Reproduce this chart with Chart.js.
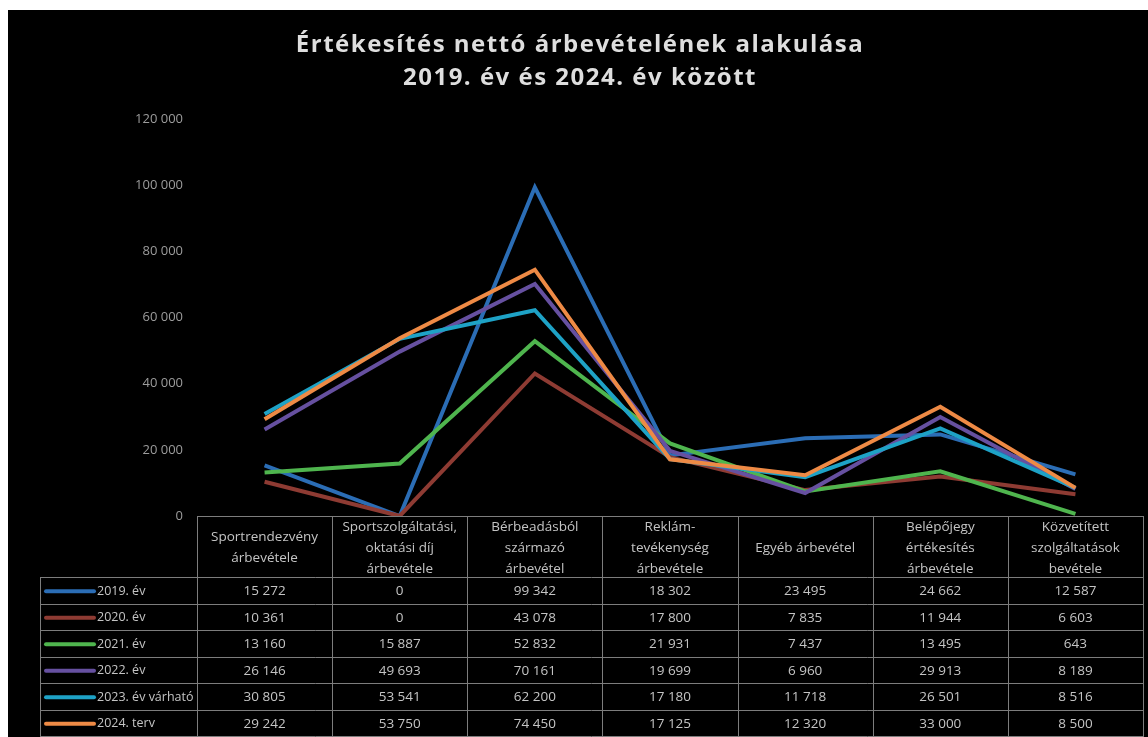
<!DOCTYPE html>
<html>
<head>
<meta charset="utf-8">
<script src="https://cdn.jsdelivr.net/npm/chart.js@4.4.1/dist/chart.umd.min.js"></script>
<style>
  html, body { margin: 0; padding: 0; background: #fff; }
  #wrap { position: absolute; left: 8px; top: 10px; width: 1140px; height: 727px; background: #000; }
  canvas { display: block; }
</style>
</head>
<body>
<div id="wrap"><canvas id="chart" width="1140" height="727"></canvas></div>
<script>
// categories (header cells, split into lines)
const categories = [
  ['Sportrendezvény', 'árbevétele'],
  ['Sportszolgáltatási,', 'oktatási díj', 'árbevétele'],
  ['Bérbeadásból', 'származó', 'árbevétel'],
  ['Reklám-', 'tevékenység', 'árbevétele'],
  ['Egyéb árbevétel'],
  ['Belépőjegy', 'értékesítés', 'árbevétele'],
  ['Közvetített', 'szolgáltatások', 'bevétele']
];

const seriesNames = ['2019. év', '2020. év', '2021. év', '2022. év', '2023. év várható', '2024. terv'];
const seriesColors = ['#2b6db5', '#8e3b33', '#4fb54e', '#6650a0', '#1ea2c6', '#ee8a45'];

const y2019 = [15272, 0, 99342, 18302, 23495, 24662, 12587];
const y2020 = [10361, 0, 43078, 17800, 7835, 11944, 6603];
const y2021 = [13160, 15887, 52832, 21931, 7437, 13495, 643];
const y2022 = [26146, 49693, 70161, 19699, 6960, 29913, 8189];
const y2023 = [30805, 53541, 62200, 17180, 11718, 26501, 8516];
const y2024 = [29242, 53750, 74450, 17125, 12320, 33000, 8500];
const seriesValues = [y2019, y2020, y2021, y2022, y2023, y2024];

const yMin = 0;
const yMax = 120000;
const yStep = 20000;

const titleLines = ['Értékesítés nettó árbevételének alakulása', '2019. év és 2024. év között'];

function fmt(v) {
  return String(v).replace(/\B(?=(\d{3})+(?!\d))/g, ' ');
}

// draws the data table under the plot, columns follow the x scale
const dataTable = {
  id: 'dataTable',
  afterDraw(chart) {
    const ctx = chart.ctx;
    const xs = chart.scales.x;
    const area = chart.chartArea;
    const colW = (area.right - area.left) / categories.length;
    const top = area.bottom;
    const headH = 62;
    const rowH = 26.5;
    const legendLeft = 32;
    const rowsTop = top + headH;
    const bottom = rowsTop + rowH * seriesNames.length;

    ctx.save();
    ctx.strokeStyle = '#7d7d7d';
    ctx.lineWidth = 1;
    ctx.beginPath();
    // header box
    ctx.moveTo(area.left, top + 0.5); ctx.lineTo(area.right, top + 0.5);
    for (let i = 0; i <= categories.length; i++) {
      const x = Math.round(area.left + colW * i) + 0.5;
      ctx.moveTo(x, top); ctx.lineTo(x, bottom);
    }
    for (let r = 0; r <= seriesNames.length; r++) {
      const y = Math.round(rowsTop + rowH * r) - 0.5;
      ctx.moveTo(legendLeft, y); ctx.lineTo(area.right, y);
    }
    ctx.moveTo(legendLeft + 0.5, rowsTop); ctx.lineTo(legendLeft + 0.5, bottom);
    ctx.stroke();

    ctx.fillStyle = '#c4c4c4';
    ctx.font = '13.5px "Open Sans", sans-serif';
    ctx.textAlign = 'center';
    ctx.textBaseline = 'middle';
    categories.forEach((lines, i) => {
      const cx = xs.getPixelForValue(i);
      const lh = 21;
      const start = top + headH / 2 - (lines.length - 1) * lh / 2;
      lines.forEach((t, k) => ctx.fillText(t, cx, start + k * lh + 1));
    });

    seriesNames.forEach((name, r) => {
      const cy = rowsTop + rowH * r + rowH / 2;
      ctx.strokeStyle = seriesColors[r];
      ctx.lineWidth = 4;
      ctx.lineCap = 'round';
      ctx.beginPath();
      ctx.moveTo(38, cy); ctx.lineTo(86, cy);
      ctx.stroke();
      ctx.textAlign = 'left';
      ctx.fillStyle = '#c4c4c4';
      ctx.font = '12.5px "Open Sans", sans-serif';
      ctx.fillText(name, 89, cy);
      ctx.textAlign = 'center';
      ctx.font = '13.5px "Open Sans", sans-serif';
      seriesValues[r].forEach((v, i) => {
        ctx.fillText(fmt(v), xs.getPixelForValue(i), cy);
      });
    });
    ctx.restore();
  }
};

// title with a bit of letter spacing
const titleDraw = {
  id: 'titleDraw',
  afterDraw(chart) {
    const ctx = chart.ctx;
    ctx.save();
    ctx.fillStyle = '#dedede';
    ctx.font = 'bold 24px "Open Sans", sans-serif';
    ctx.textAlign = 'center';
    ctx.textBaseline = 'middle';
    if ('letterSpacing' in ctx) ctx.letterSpacing = '1.5px';
    ctx.fillText(titleLines[0], 572, 35);
    ctx.fillText(titleLines[1], 572, 68);
    ctx.restore();
  }
};

const datasets = seriesNames.map((name, i) => ({
  label: name,
  data: seriesValues[i],
  borderColor: seriesColors[i],
  backgroundColor: seriesColors[i],
  borderWidth: 4,
  pointRadius: 0,
  tension: 0,
  order: seriesNames.length - i
}));

new Chart(document.getElementById('chart'), {
  type: 'line',
  data: { labels: categories.map(c => c.join(' ')), datasets: datasets },
  plugins: [dataTable, titleDraw],
  options: {
    responsive: false,
    animation: false,
    layout: { padding: { top: 109, right: 5, bottom: 221, left: 0 } },
    plugins: {
      legend: { display: false },
      tooltip: { enabled: false },
      title: { display: false }
    },
    scales: {
      x: {
        display: false,
        offset: true
      },
      y: {
        min: yMin,
        max: yMax,
        afterFit(scale) { scale.width = 189; },
        grid: { display: false },
        border: { display: false },
        ticks: {
          stepSize: yStep,
          padding: 6,
          color: '#9c9c9c',
          font: { family: '"Open Sans", sans-serif', size: 13 },
          callback: v => fmt(v)
        }
      }
    }
  }
});
</script>
</body>
</html>
